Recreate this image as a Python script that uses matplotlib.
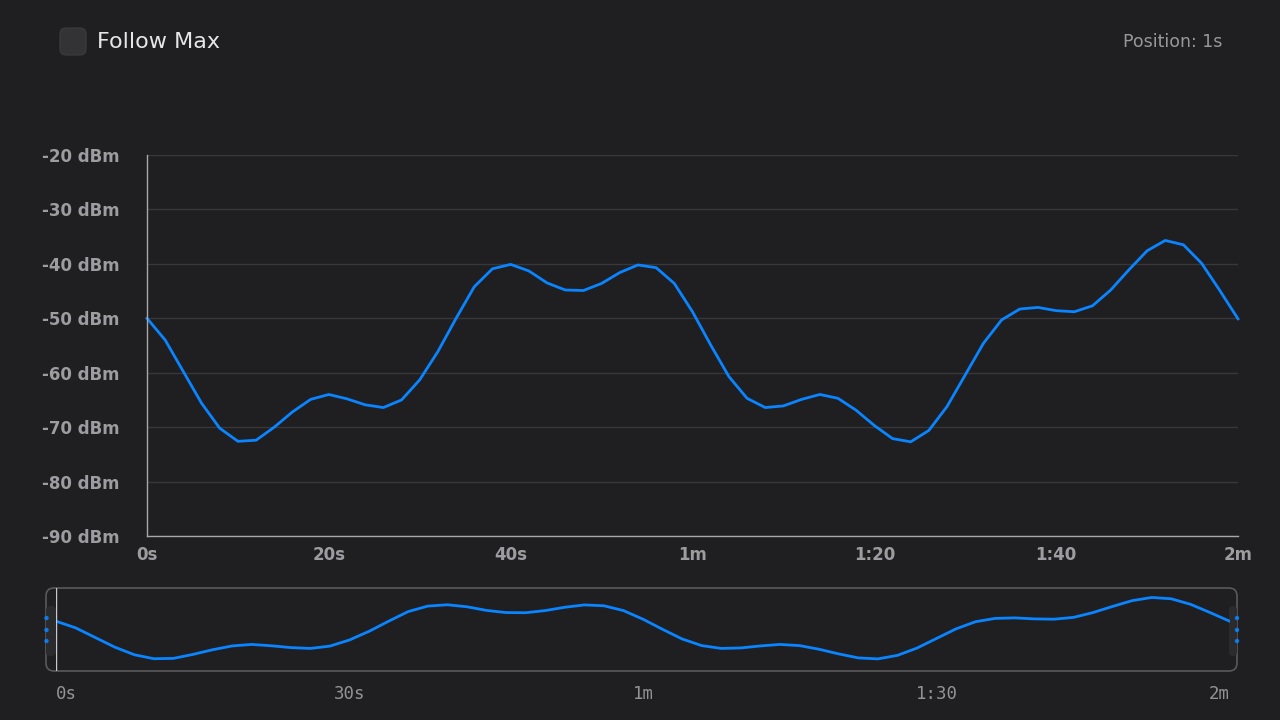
import matplotlib
matplotlib.use("Agg")
import matplotlib.pyplot as plt
from matplotlib.patches import FancyBboxPatch, Circle

# Data: signal level sampled every 2 s over 2 minutes
seconds = list(range(0, 121, 2))
dbm = [-50.0, -54.0, -59.8, -65.6, -70.2, -72.6, -72.4, -70.0, -67.2, -64.9,
       -64.0, -64.8, -65.9, -66.4, -65.0, -61.3, -56.1, -50.0, -44.2, -40.9,
       -40.1, -41.3, -43.5, -44.8, -44.9, -43.6, -41.6, -40.2, -40.7, -43.6,
       -48.8, -54.9, -60.7, -64.7, -66.4, -66.1, -64.9, -64.0, -64.7, -66.9,
       -69.7, -72.1, -72.7, -70.6, -66.2, -60.4, -54.6, -50.3, -48.3, -48.0,
       -48.6, -48.8, -47.7, -44.8, -41.1, -37.6, -35.7, -36.5, -39.9, -44.9,
       -50.1]

y_ticks = [-20, -30, -40, -50, -60, -70, -80, -90]
x_ticks = [0, 20, 40, 60, 80, 100, 120]
x_labels = ["0s", "20s", "40s", "1m", "1:20", "1:40", "2m"]
mini_ticks = [0, 30, 60, 90, 120]
mini_labels = ["0s", "30s", "1m", "1:30", "2m"]

BG = "#1f1f21"
BLUE = "#0a84ff"
LABEL = "#9d9da1"
GRID = "#38383b"
SPINE = "#a8a8ab"

fig = plt.figure(figsize=(12.8, 7.2), dpi=100, facecolor=BG)


def px(x, y):
    # pixel position from top-left -> inches for dpi_scale_trans
    return x / 100, (720 - y) / 100


# main chart
ax = fig.add_axes([147 / 1280, 1 - 536 / 720, (1238 - 147) / 1280, (536 - 155) / 720])
ax.set_facecolor(BG)
ax.plot(seconds, dbm, color=BLUE, linewidth=2.0, solid_joinstyle="round", clip_on=False)
ax.set_xlim(0, 120)
ax.set_ylim(-90, -20)
ax.set_yticks(y_ticks)
ax.set_yticklabels([f"{v} dBm" for v in y_ticks])
ax.set_xticks(x_ticks)
ax.set_xticklabels(x_labels)
ax.grid(axis="y", color=GRID, linewidth=1.0)
ax.set_axisbelow(True)
for s in ["top", "right"]:
    ax.spines[s].set_visible(False)
for s in ["left", "bottom"]:
    ax.spines[s].set_color(SPINE)
    ax.spines[s].set_linewidth(1.0)
ax.tick_params(length=0, colors=LABEL, labelsize=12)
ax.tick_params(axis="y", pad=19.5)
ax.tick_params(axis="x", pad=7.5)
for t in ax.get_xticklabels() + ax.get_yticklabels():
    t.set_fontweight("bold")
    t.set_color(LABEL)

# minimap frame (behind the axes)
frame = FancyBboxPatch(px(46, 671), 1191 / 100, 83 / 100,
                       boxstyle="round,pad=0,rounding_size=0.08",
                       transform=fig.dpi_scale_trans, facecolor=BG,
                       edgecolor="#59595c", linewidth=1.2, zorder=-2)
fig.add_artist(frame)

mini = fig.add_axes([56 / 1280, 1 - 671 / 720, (1230 - 56) / 1280, 83 / 720])
mini.patch.set_alpha(0)
mini.plot(seconds, dbm, color=BLUE, linewidth=2.0, solid_joinstyle="round")
mini.set_xlim(0, 120)
mini.set_ylim(-80, -30)
mini.set_yticks([])
mini.set_xticks(mini_ticks)
mini.set_xticklabels(mini_labels, family="DejaVu Sans Mono")
for s in mini.spines.values():
    s.set_visible(False)
mini.tick_params(length=0, colors="#939397", labelsize=12.5, pad=10)
labels = mini.get_xticklabels()
labels[0].set_ha("left")
labels[-1].set_ha("right")
mini.axvline(0, color="#c8c8cb", linewidth=1.0)

# range handles
for hx, w in [(46, 10), (1229, 8)]:
    fig.add_artist(FancyBboxPatch(px(hx, 656), w / 100, 50 / 100,
                                  boxstyle="round,pad=0,rounding_size=0.04",
                                  transform=fig.dpi_scale_trans,
                                  facecolor="#2b2b2e", edgecolor="none", zorder=-1))
for hx in [46.5, 1237]:
    for hy in [618, 630, 641]:
        fig.add_artist(Circle(px(hx, hy), 0.022, transform=fig.dpi_scale_trans,
                              facecolor=BLUE, edgecolor="none", alpha=0.9))

# header
fig.add_artist(FancyBboxPatch(px(60, 55), 26 / 100, 27 / 100,
                              boxstyle="round,pad=0,rounding_size=0.06",
                              transform=fig.dpi_scale_trans,
                              facecolor="#333336", edgecolor="#3c3c3f", linewidth=0.8))
fig.text(97 / 1280, 1 - 42 / 720, "Follow Max", color="#e6e6e8", fontsize=16,
         ha="left", va="center")
fig.text(1222 / 1280, 1 - 42 / 720, "Position: 1s", color="#98989c", fontsize=12.5,
         ha="right", va="center")

fig.savefig("out.png", dpi=100, facecolor=BG)
